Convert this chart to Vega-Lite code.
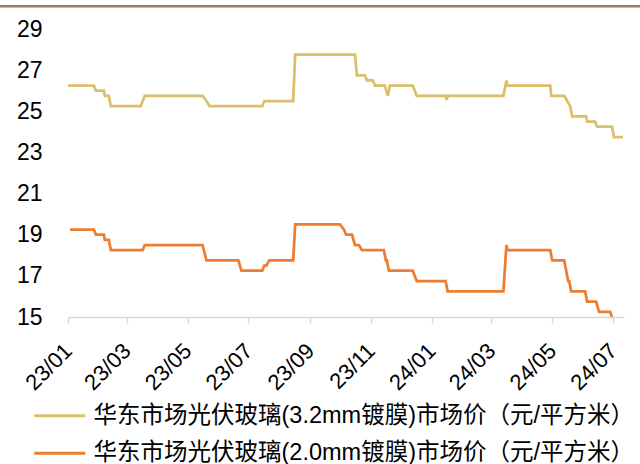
{
  "$schema": "https://vega.github.io/schema/vega-lite/v6.json",
  "width": 556,
  "height": 288,
  "autosize": {"type": "none"},
  "padding": {"left": 68, "top": 29, "right": 16, "bottom": 147},
  "background": "white",
  "config": {
    "view": {"stroke": null},
    "font": "Liberation Sans"
  },
  "layer": [
    {
      "data": {"values": [{}]},
      "mark": {"type": "rule", "color": "#a57c5c", "strokeWidth": 2.5, "clip": false},
      "encoding": {
        "y": {"datum": 30.11, "type": "quantitative"},
        "x": {"datum": {"year": 2022, "month": 10, "date": 1, "utc": true}, "type": "temporal"},
        "x2": {"datum": {"year": 2024, "month": 8, "date": 15, "utc": true}}
      }
    },
    {
      "data": {"values": [
        {"date": "2023-01-01", "value": 26.25},
        {"date": "2023-01-27", "value": 26.25},
        {"date": "2023-01-29", "value": 26.0},
        {"date": "2023-02-06", "value": 26.0},
        {"date": "2023-02-07", "value": 25.75},
        {"date": "2023-02-11", "value": 25.75},
        {"date": "2023-02-13", "value": 25.25},
        {"date": "2023-03-15", "value": 25.25},
        {"date": "2023-03-19", "value": 25.75},
        {"date": "2023-05-16", "value": 25.75},
        {"date": "2023-05-20", "value": 25.5},
        {"date": "2023-05-23", "value": 25.25},
        {"date": "2023-07-15", "value": 25.25},
        {"date": "2023-07-17", "value": 25.5},
        {"date": "2023-08-15", "value": 25.5},
        {"date": "2023-08-17", "value": 27.75},
        {"date": "2023-10-16", "value": 27.75},
        {"date": "2023-10-18", "value": 26.75},
        {"date": "2023-10-26", "value": 26.75},
        {"date": "2023-10-28", "value": 26.5},
        {"date": "2023-11-03", "value": 26.5},
        {"date": "2023-11-05", "value": 26.25},
        {"date": "2023-11-15", "value": 26.25},
        {"date": "2023-11-18", "value": 25.75},
        {"date": "2023-11-20", "value": 26.25},
        {"date": "2023-12-13", "value": 26.25},
        {"date": "2023-12-17", "value": 25.75},
        {"date": "2024-01-15", "value": 25.75},
        {"date": "2024-01-16", "value": 25.55},
        {"date": "2024-01-17", "value": 25.75},
        {"date": "2024-03-13", "value": 25.75},
        {"date": "2024-03-16", "value": 26.5},
        {"date": "2024-03-17", "value": 26.25},
        {"date": "2024-04-29", "value": 26.25},
        {"date": "2024-04-30", "value": 25.75},
        {"date": "2024-05-13", "value": 25.75},
        {"date": "2024-05-16", "value": 25.5},
        {"date": "2024-05-19", "value": 25.25},
        {"date": "2024-05-21", "value": 24.75},
        {"date": "2024-06-04", "value": 24.75},
        {"date": "2024-06-05", "value": 24.5},
        {"date": "2024-06-13", "value": 24.5},
        {"date": "2024-06-15", "value": 24.25},
        {"date": "2024-06-30", "value": 24.25},
        {"date": "2024-07-02", "value": 23.75},
        {"date": "2024-07-11", "value": 23.75}
      ]},
      "mark": {"type": "line", "strokeWidth": 2.75, "clip": false},
      "encoding": {
        "x": {"field": "date", "type": "temporal"},
        "y": {"field": "value", "type": "quantitative"},
        "color": {"datum": "华东市场光伏玻璃(3.2mm镀膜)市场价（元/平方米）", "type": "nominal"}
      }
    },
    {
      "data": {"values": [
        {"date": "2023-01-03", "value": 19.25},
        {"date": "2023-01-27", "value": 19.25},
        {"date": "2023-01-29", "value": 19.0},
        {"date": "2023-02-06", "value": 19.0},
        {"date": "2023-02-07", "value": 18.75},
        {"date": "2023-02-11", "value": 18.75},
        {"date": "2023-02-13", "value": 18.25},
        {"date": "2023-03-17", "value": 18.25},
        {"date": "2023-03-19", "value": 18.5},
        {"date": "2023-05-16", "value": 18.5},
        {"date": "2023-05-20", "value": 17.75},
        {"date": "2023-06-21", "value": 17.75},
        {"date": "2023-06-24", "value": 17.25},
        {"date": "2023-07-15", "value": 17.25},
        {"date": "2023-07-17", "value": 17.5},
        {"date": "2023-07-19", "value": 17.5},
        {"date": "2023-07-22", "value": 17.75},
        {"date": "2023-08-15", "value": 17.75},
        {"date": "2023-08-17", "value": 19.5},
        {"date": "2023-10-01", "value": 19.5},
        {"date": "2023-10-05", "value": 19.25},
        {"date": "2023-10-07", "value": 19.0},
        {"date": "2023-10-13", "value": 19.0},
        {"date": "2023-10-16", "value": 18.5},
        {"date": "2023-10-20", "value": 18.5},
        {"date": "2023-10-23", "value": 18.25},
        {"date": "2023-11-14", "value": 18.25},
        {"date": "2023-11-16", "value": 17.75},
        {"date": "2023-11-17", "value": 17.75},
        {"date": "2023-11-19", "value": 17.25},
        {"date": "2023-12-13", "value": 17.25},
        {"date": "2023-12-17", "value": 16.75},
        {"date": "2024-01-15", "value": 16.75},
        {"date": "2024-01-17", "value": 16.25},
        {"date": "2024-03-13", "value": 16.25},
        {"date": "2024-03-16", "value": 18.5},
        {"date": "2024-03-17", "value": 18.25},
        {"date": "2024-04-29", "value": 18.25},
        {"date": "2024-05-01", "value": 17.75},
        {"date": "2024-05-13", "value": 17.75},
        {"date": "2024-05-15", "value": 17.25},
        {"date": "2024-05-17", "value": 16.75},
        {"date": "2024-05-18", "value": 16.75},
        {"date": "2024-05-20", "value": 16.25},
        {"date": "2024-06-03", "value": 16.25},
        {"date": "2024-06-05", "value": 15.75},
        {"date": "2024-06-14", "value": 15.75},
        {"date": "2024-06-17", "value": 15.25},
        {"date": "2024-06-28", "value": 15.25},
        {"date": "2024-06-30", "value": 15.0}
      ]},
      "mark": {"type": "line", "strokeWidth": 2.75, "clip": false},
      "encoding": {
        "x": {"field": "date", "type": "temporal"},
        "y": {"field": "value", "type": "quantitative"},
        "color": {"datum": "华东市场光伏玻璃(2.0mm镀膜)市场价（元/平方米）", "type": "nominal"}
      }
    }
  ],
  "encoding": {
    "x": {
      "type": "temporal",
      "scale": {"type": "utc", "domain": [{"year": 2023, "month": 1, "date": 1, "utc": true}, {"year": 2024, "month": 7, "date": 12, "utc": true}]},
      "axis": {
        "title": null,
        "grid": false,
        "format": "%y/%m",
        "tickCount": {"interval": "month", "step": 2},
        "labelAngle": -45,
        "labelAlign": "right",
        "labelBaseline": "middle",
        "labelFontSize": 22,
        "labelColor": "#000000",
        "labelPadding": 24,
        "labelOverlap": false,
        "domainColor": "#d9d9d9",
        "domainWidth": 1.5,
        "tickColor": "#d9d9d9",
        "tickWidth": 1.5,
        "tickSize": 6
      }
    },
    "y": {
      "type": "quantitative",
      "scale": {"domain": [15, 29], "nice": false, "zero": false},
      "axis": {
        "title": null,
        "grid": false,
        "domain": false,
        "ticks": false,
        "values": [15, 17, 19, 21, 23, 25, 27, 29],
        "labelFontSize": 23,
        "labelColor": "#000000",
        "labelPadding": 26
      }
    },
    "color": {
      "type": "nominal",
      "scale": {
        "domain": ["华东市场光伏玻璃(3.2mm镀膜)市场价（元/平方米）", "华东市场光伏玻璃(2.0mm镀膜)市场价（元/平方米）"],
        "range": ["#dbbf6b", "#ed7d31"]
      },
      "legend": {
        "title": null,
        "orient": "none",
        "legendX": -20,
        "legendY": 375,
        "direction": "vertical",
        "labelFont": "Liberation Sans, Noto Sans CJK SC",
        "labelFontSize": 23.5,
        "labelColor": "#000000",
        "labelLimit": 700,
        "labelOffset": 22,
        "symbolType": "M-2.55,0H2.55",
        "symbolSize": 400,
        "symbolStrokeWidth": 3,
        "rowPadding": 12.5
      }
    }
  }
}
